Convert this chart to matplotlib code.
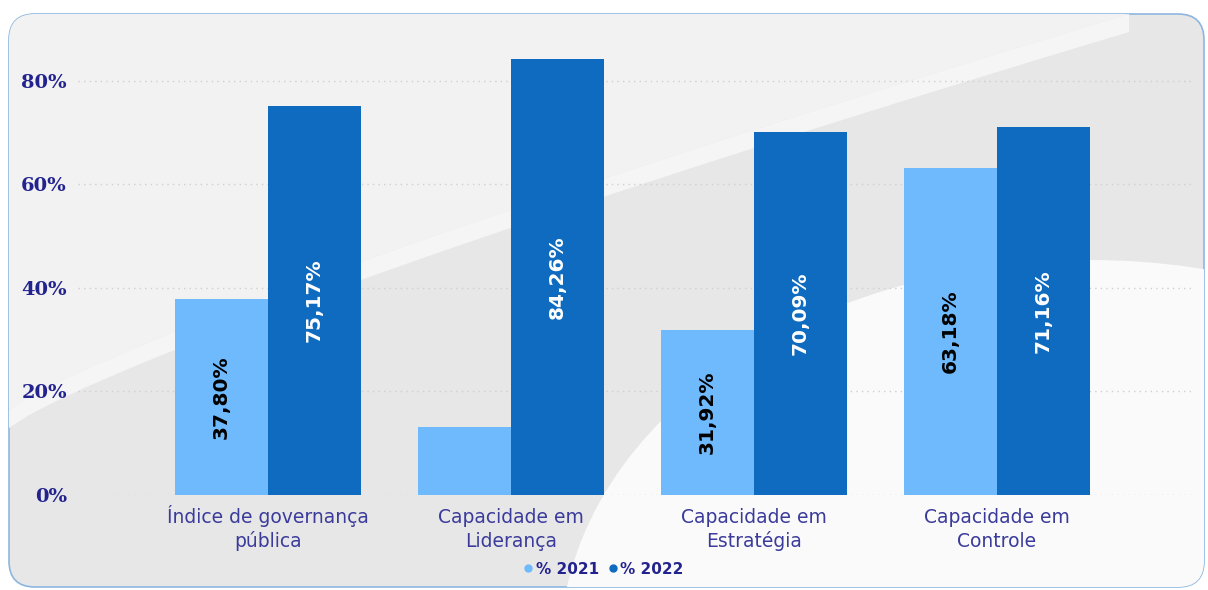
import numpy as np
import matplotlib.pyplot as plt
from matplotlib.patches import FancyBboxPatch, Polygon, Ellipse
from matplotlib.transforms import blended_transform_factory

# ----------------------------------
# Data
# ----------------------------------
categories = ["Índice de governança\npública", "Capacidade em\nLiderança",
              "Capacidade em\nEstratégia", "Capacidade em\nControle"]
pct_2021 = [37.80, 13.14, 31.92, 63.18]
pct_2022 = [75.17, 84.26, 70.09, 71.16]
show_2021_label = [True, False, True, True]
series_names = ["% 2021", "% 2022"]

c2021 = "#6fb9fd"
c2022 = "#0e6bc0"
navy = "#23238f"

W, H = 1208, 590
fig = plt.figure(figsize=(W / 100, H / 100), dpi=100)
fig.patch.set_facecolor("white")

# ----------------------------------
# Panel background (pixel coordinates)
# ----------------------------------
bg = fig.add_axes([0, 0, 1, 1], zorder=0)
bg.set_xlim(0, W)
bg.set_ylim(H, 0)
bg.axis("off")

panel = FancyBboxPatch((9, 14), 1195, 573, boxstyle="round,pad=0,rounding_size=26",
                       facecolor="#e7e7e7", edgecolor="#8db6df", linewidth=1.2)
bg.add_patch(panel)

t = np.linspace(0, 1, 60)
curve_x = 9 + t * 1120
curve_y = 410 - 396 * (t ** 0.85)
light = Polygon(np.column_stack([np.r_[9, curve_x, 9], np.r_[14, curve_y, 14]]),
                facecolor="#f2f2f2", edgecolor="none")
light.set_clip_path(panel)
bg.add_patch(light)

band_x = np.r_[curve_x, curve_x[::-1]]
band_y = np.r_[curve_y, (curve_y + 18)[::-1]]
band = Polygon(np.column_stack([band_x, band_y]), facecolor="#f5f5f5", edgecolor="none")
band.set_clip_path(panel)
bg.add_patch(band)

glow = Ellipse((1090, 650), 1060, 780, facecolor="#fafafa", edgecolor="none")
glow.set_clip_path(panel)
bg.add_patch(glow)

# ----------------------------------
# Bars
# ----------------------------------
ax = fig.add_axes([0.0646, 0.161, 0.9244, 0.772], zorder=1)
ax.patch.set_alpha(0)

x = np.arange(len(categories))
w = 0.383
b1 = ax.bar(x - w / 2, pct_2021, w, color=c2021, zorder=2)
b2 = ax.bar(x + w / 2, pct_2022, w, color=c2022, zorder=2)

for rect, v, show in zip(b1, pct_2021, show_2021_label):
    if show:
        ax.text(rect.get_x() + rect.get_width() / 2, v / 2, f"{v:.2f}%".replace(".", ","),
                rotation=90, ha="center", va="center", color="black",
                fontsize=14.5, fontweight="bold", zorder=3)
for rect, v in zip(b2, pct_2022):
    ax.text(rect.get_x() + rect.get_width() / 2, v / 2, f"{v:.2f}%".replace(".", ","),
            rotation=90, ha="center", va="center", color="white",
            fontsize=14.5, fontweight="bold", zorder=3)

ax.set_xlim(-0.782, 3.815)
ax.set_ylim(0, 88)
ax.set_yticks([0, 20, 40, 60, 80])
ax.set_yticklabels(["0%", "20%", "40%", "60%", "80%"], fontfamily="DejaVu Serif",
                   fontweight="bold", fontsize=14, color=navy)
ax.tick_params(length=0)
ax.tick_params(axis="y", pad=8)
ax.grid(axis="y", linestyle=(0, (1, 3)), color="#cfcfcf", linewidth=1, zorder=1)
for s in ax.spines.values():
    s.set_visible(False)

# category labels, each line on a fixed baseline
ax.set_xticks(x)
ax.set_xticklabels([])
lbl_tr = blended_transform_factory(ax.transData, fig.transFigure)
for xi, cat in zip(x, categories):
    for k, line in enumerate(cat.split("\n")):
        ax.text(xi, 1 - (523 + 24 * k) / H, line, transform=lbl_tr, ha="center",
                va="baseline", fontsize=13.5, color="#3b3b9c")

# ----------------------------------
# Legend
# ----------------------------------
h1 = plt.Line2D([], [], marker="o", linestyle="none", color=c2021, markersize=5)
h2 = plt.Line2D([], [], marker="o", linestyle="none", color=c2022, markersize=5)
leg = fig.legend([h1, h2], series_names, loc="center", bbox_to_anchor=(603 / W, 1 - 569 / H),
                 ncol=2, frameon=False, handletextpad=0.1, columnspacing=0.5,
                 handlelength=0.8, prop={"weight": "bold", "size": 11})
for txt in leg.get_texts():
    txt.set_color(navy)

fig.savefig("out.png", dpi=100)
